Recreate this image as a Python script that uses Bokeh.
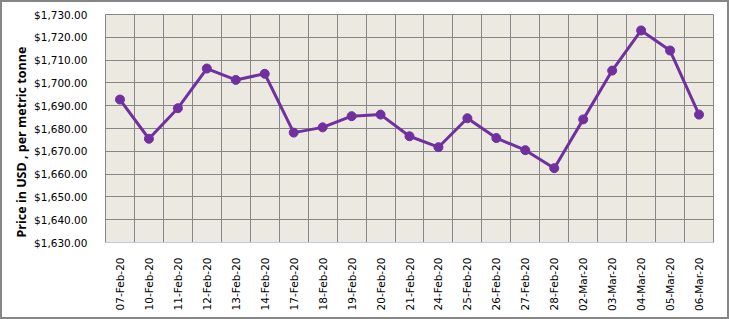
from bokeh.plotting import figure
from bokeh.models import FixedTicker, NumeralTickFormatter, Range1d, Grid, Title
from bokeh.embed import file_html
from bokeh.resources import INLINE
import math

dates = ["07-Feb-20", "10-Feb-20", "11-Feb-20", "12-Feb-20", "13-Feb-20", "14-Feb-20",
         "17-Feb-20", "18-Feb-20", "19-Feb-20", "20-Feb-20", "21-Feb-20", "24-Feb-20",
         "25-Feb-20", "26-Feb-20", "27-Feb-20", "28-Feb-20", "02-Mar-20", "03-Mar-20",
         "04-Mar-20", "05-Mar-20", "06-Mar-20"]
prices = [1692.7, 1675.5, 1688.9, 1706.3, 1701.3, 1704.0,
          1678.2, 1680.5, 1685.4, 1686.1, 1676.6, 1671.8,
          1684.5, 1675.8, 1670.5, 1662.6, 1684.0, 1705.4,
          1723.0, 1714.2, 1686.1]
y_ticks = [1630, 1640, 1650, 1660, 1670, 1680, 1690, 1700, 1710, 1720, 1730]
y_title = "Price in USD , per metric tonne"

xs = list(range(len(dates)))
n = len(dates)

p = figure(width=729, height=319, output_backend="svg", toolbar_location=None,
           x_range=Range1d(-0.5, n - 0.5), y_range=Range1d(1630, 1730),
           min_border_left=103, min_border_right=18, min_border_top=12, min_border_bottom=79)

p.background_fill_color = "#ECEAE0"
p.border_fill_color = "white"
p.outline_line_color = "#868686"
p.outline_line_width = 1

p.xgrid.visible = False
p.ygrid.ticker = FixedTicker(ticks=y_ticks)
p.ygrid.grid_line_color = "#868686"
p.ygrid.grid_line_width = 1
vgrid = Grid(dimension=0, ticker=FixedTicker(ticks=[i - 0.5 for i in range(n + 1)]),
             grid_line_color="#868686", grid_line_width=1)
p.add_layout(vgrid)

p.line(xs, prices, line_color="#7030A0", line_width=3)
p.scatter(xs, prices, size=9, fill_color="#7030A0", line_color="#7030A0")

xa = p.xaxis[0]
xa.ticker = FixedTicker(ticks=xs)
xa.major_label_overrides = {i: d for i, d in enumerate(dates)}
xa.major_label_orientation = math.pi / 2
xa.major_tick_line_color = None
xa.minor_tick_line_color = None
xa.axis_line_color = "#C5C8E8"
xa.major_label_text_font = "DejaVu Sans"
xa.major_label_text_font_size = "10.5px"
xa.major_label_text_color = "black"
xa.major_label_standoff = 9

ya = p.yaxis[0]
ya.ticker = FixedTicker(ticks=y_ticks)
ya.formatter = NumeralTickFormatter(format="$0,0.00")
ya.major_tick_line_color = None
ya.minor_tick_line_color = None
ya.axis_line_color = None
ya.major_label_text_font = "DejaVu Sans"
ya.major_label_text_font_size = "10.5px"
ya.major_label_text_color = "black"
ya.major_label_standoff = 12

title = Title(text=y_title, align="left", offset=5, standoff=4,
              text_font="Open Sans", text_font_style="bold", text_font_size="12.5px",
              text_color="black")
p.add_layout(title, "left")

p.styles = {"border": "2px solid #868686", "box-sizing": "border-box"}

open("out.html", "w").write(file_html(p, INLINE))
